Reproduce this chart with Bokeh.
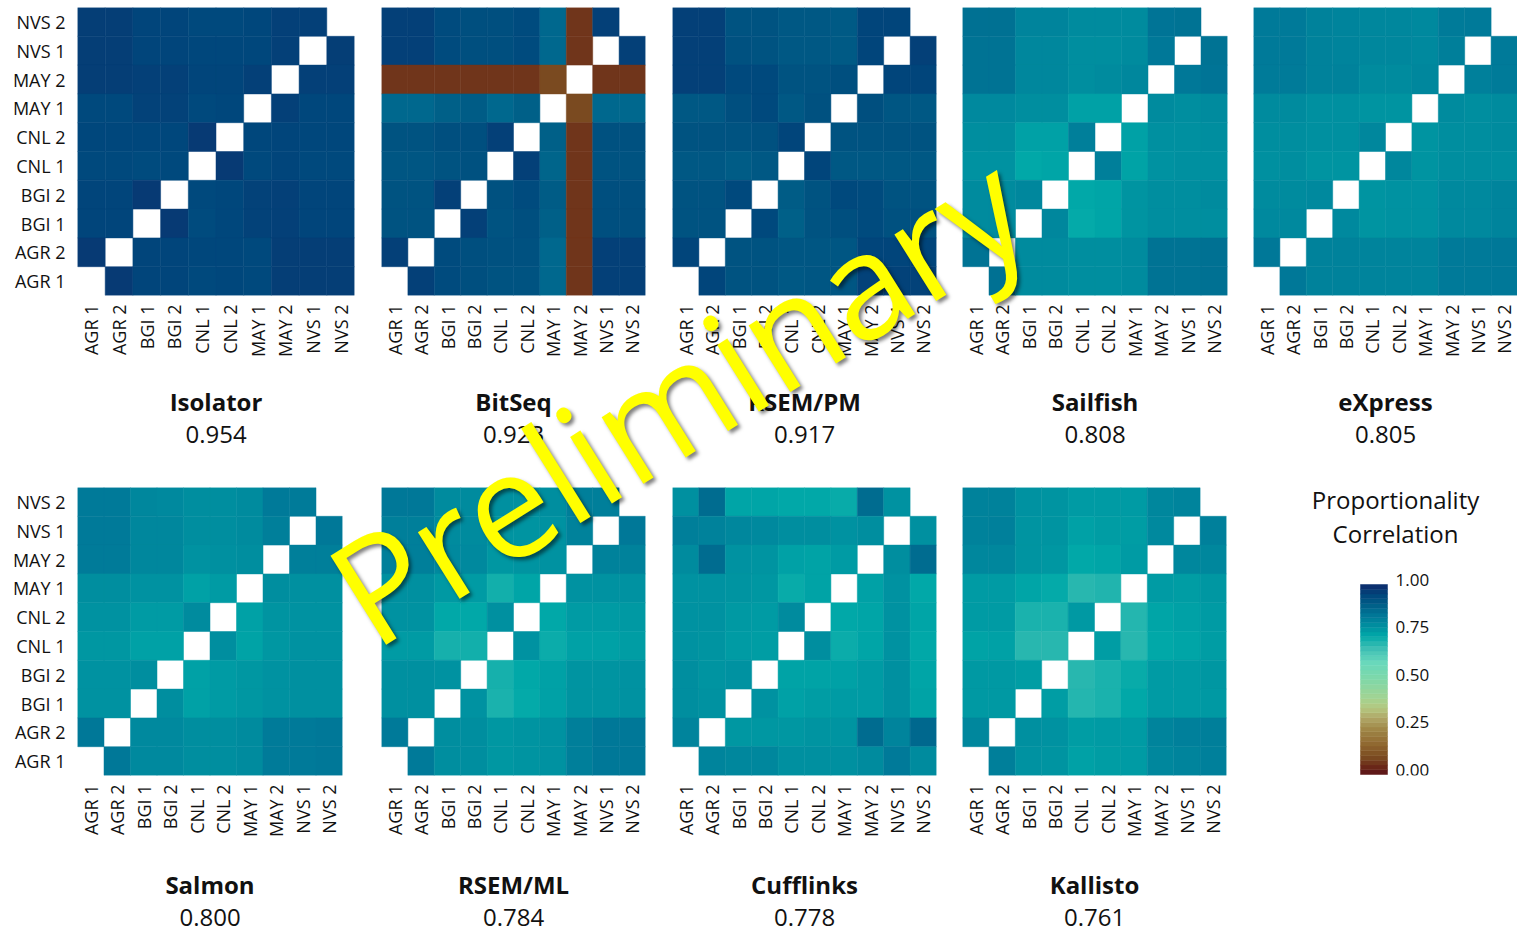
import math
from bokeh.plotting import figure
from bokeh.models import (FactorRange, Range1d, Label, Title, Div, ColumnDataSource)
from bokeh.layouts import row, column
from bokeh.transform import linear_cmap
from bokeh.embed import file_html
from bokeh.resources import INLINE

# ---------------- data ----------------
samples = ["AGR 1", "AGR 2", "BGI 1", "BGI 2", "CNL 1", "CNL 2",
           "MAY 1", "MAY 2", "NVS 1", "NVS 2"]

methods_top = ["Isolator", "BitSeq", "RSEM/PM", "Sailfish", "eXpress"]
scores_top = ["0.954", "0.923", "0.917", "0.808", "0.805"]
methods_bottom = ["Salmon", "RSEM/ML", "Cufflinks", "Kallisto"]
scores_bottom = ["0.800", "0.784", "0.778", "0.761"]

# rows listed top (NVS 2) to bottom (AGR 1); columns AGR 1 .. NVS 2
isolator = [
    [.960, .960, .945, .945, .935, .935, .940, .955, .955, None],
    [.960, .960, .945, .945, .940, .940, .940, .955, None, .960],
    [.960, .960, .955, .955, .945, .945, .955, None, .955, .955],
    [.935, .935, .950, .950, .935, .940, None, .955, .940, .940],
    [.940, .940, .940, .940, .965, None, .940, .945, .940, .940],
    [.935, .935, .930, .935, None, .965, .935, .945, .935, .935],
    [.945, .945, .965, None, .935, .940, .950, .955, .945, .945],
    [.945, .945, None, .965, .930, .940, .950, .955, .945, .945],
    [.965, None, .945, .945, .940, .940, .935, .960, .960, .960],
    [None, .965, .945, .945, .935, .940, .935, .960, .960, .960],
]
bitseq = [
    [.955, .955, .930, .925, .925, .930, .870, .060, .955, None],
    [.955, .955, .930, .925, .925, .930, .870, .060, None, .955],
    [.060, .060, .060, .060, .060, .060, .090, None, .060, .060],
    [.870, .870, .890, .895, .870, .890, None, .090, .870, .870],
    [.915, .915, .925, .925, .955, None, .890, .060, .920, .920],
    [.910, .910, .915, .920, None, .955, .875, .060, .915, .915],
    [.915, .915, .955, None, .920, .930, .895, .060, .925, .925],
    [.915, .915, None, .955, .915, .925, .890, .060, .925, .925],
    [.955, None, .930, .925, .920, .920, .870, .060, .955, .955],
    [None, .955, .930, .925, .915, .915, .870, .060, .955, .955],
]
rsem_pm = [
    [.955, .955, .915, .915, .905, .905, .900, .945, .945, None],
    [.955, .955, .920, .915, .905, .905, .900, .945, None, .955],
    [.955, .955, .935, .935, .915, .915, .925, None, .945, .945],
    [.905, .905, .925, .935, .905, .920, None, .925, .910, .905],
    [.915, .915, .915, .920, .945, None, .915, .915, .915, .915],
    [.905, .905, .895, .905, None, .945, .905, .905, .905, .905],
    [.915, .915, .935, None, .895, .915, .935, .930, .915, .915],
    [.915, .915, None, .935, .890, .915, .925, .930, .920, .920],
    [.945, None, .915, .915, .910, .910, .910, .945, .945, .945],
    [None, .945, .915, .915, .905, .910, .910, .950, .950, .950],
]
sailfish = [
    [.850, .850, .805, .805, .790, .790, .790, .840, .845, None],
    [.845, .845, .800, .800, .785, .785, .790, .835, None, .845],
    [.845, .845, .800, .800, .785, .790, .800, None, .835, .840],
    [.795, .795, .785, .785, .745, .745, None, .790, .785, .790],
    [.785, .785, .745, .745, .820, None, .745, .780, .780, .785],
    [.775, .775, .730, .735, None, .820, .740, .775, .780, .780],
    [.790, .790, .800, None, .730, .735, .770, .785, .785, .790],
    [.790, .790, None, .800, .725, .735, .770, .785, .785, .785],
    [.845, None, .790, .790, .785, .785, .790, .845, .845, .850],
    [None, .850, .790, .790, .785, .785, .790, .845, .845, .850],
]
express = [
    [.830, .830, .810, .805, .800, .800, .795, .825, .830, None],
    [.830, .830, .810, .805, .800, .800, .795, .820, None, .830],
    [.825, .825, .810, .810, .790, .790, .800, None, .815, .825],
    [.790, .790, .780, .780, .770, .770, None, .790, .785, .790],
    [.785, .785, .780, .780, .800, None, .770, .785, .785, .790],
    [.780, .785, .770, .770, None, .800, .770, .785, .785, .785],
    [.790, .790, .795, None, .770, .775, .775, .795, .795, .805],
    [.795, .795, None, .795, .770, .775, .775, .795, .795, .805],
    [.835, None, .810, .810, .805, .805, .805, .830, .830, .835],
    [None, .835, .810, .810, .805, .805, .805, .830, .830, .835],
]
salmon = [
    [.830, .830, .800, .795, .785, .785, .790, .830, .825, None],
    [.830, .830, .800, .800, .785, .785, .790, .820, None, .835],
    [.825, .825, .800, .800, .775, .780, .785, None, .820, .820],
    [.785, .785, .775, .775, .745, .755, None, .785, .780, .780],
    [.775, .775, .755, .755, .790, None, .745, .770, .775, .775],
    [.765, .765, .745, .745, None, .785, .740, .765, .775, .775],
    [.775, .775, .785, None, .745, .755, .765, .775, .780, .780],
    [.775, .775, None, .785, .745, .755, .765, .775, .780, .780],
    [.835, None, .795, .795, .785, .785, .790, .825, .830, .835],
    [None, .835, .795, .795, .785, .785, .790, .825, .830, .835],
]
rsem_ml = [
    [.835, .835, .790, .790, .780, .780, .785, .820, .820, None],
    [.820, .820, .790, .790, .770, .770, .775, .810, None, .835],
    [.820, .820, .795, .795, .765, .770, .775, None, .810, .810],
    [.780, .780, .760, .755, .710, .735, None, .775, .775, .775],
    [.775, .775, .730, .730, .780, None, .730, .755, .755, .760],
    [.755, .755, .705, .710, None, .775, .715, .745, .745, .750],
    [.780, .780, .775, None, .705, .730, .745, .770, .770, .775],
    [.780, .780, None, .775, .700, .725, .745, .770, .770, .775],
    [.830, None, .785, .785, .765, .770, .775, .820, .835, .835],
    [None, .830, .785, .785, .765, .770, .775, .820, .835, .835],
]
cufflinks = [
    [.780, .860, .735, .735, .730, .730, .720, .860, .775, None],
    [.820, .810, .800, .795, .785, .785, .775, .785, None, .780],
    [.790, .860, .775, .770, .745, .740, .755, None, .785, .860],
    [.775, .775, .770, .765, .720, .740, None, .745, .775, .730],
    [.775, .775, .760, .755, .790, None, .730, .735, .775, .735],
    [.775, .770, .755, .750, None, .785, .715, .735, .775, .730],
    [.785, .770, .775, None, .740, .740, .745, .755, .780, .735],
    [.785, .775, None, .775, .745, .750, .755, .755, .780, .740],
    [.805, None, .765, .765, .765, .770, .770, .860, .805, .870],
    [None, .805, .800, .800, .780, .780, .780, .790, .830, .790],
]
kallisto = [
    [.810, .810, .775, .770, .755, .755, .755, .800, .805, None],
    [.810, .815, .770, .770, .745, .750, .750, .795, None, .815],
    [.800, .800, .770, .765, .730, .735, .755, None, .800, .800],
    [.755, .755, .735, .725, .685, .695, None, .755, .750, .765],
    [.755, .755, .700, .700, .760, None, .690, .735, .745, .755],
    [.740, .745, .685, .685, None, .750, .685, .730, .735, .750],
    [.760, .760, .750, None, .685, .700, .720, .755, .755, .765],
    [.760, .760, None, .750, .690, .700, .730, .755, .755, .760],
    [.800, None, .780, .775, .750, .755, .755, .805, .815, .820],
    [None, .820, .775, .770, .745, .750, .755, .800, .805, .815],
]

cbar_ticks = [0.0, 0.25, 0.5, 0.75, 1.0]
legend_title = ["Proportionality", "Correlation"]
watermark_text = "Preliminary"

# ---------------- style ----------------
FONT = "Open Sans"
TXT = "#111111"
cmap_stops = [(0.00, "#5a1018"), (0.04, "#6a2818"), (0.09, "#7a4a20"),
              (0.16, "#906830"), (0.24, "#a08848"), (0.30, "#b0a868"),
              (0.35, "#b4c880"), (0.41, "#a0d494"), (0.50, "#80d8a8"),
              (0.59, "#68d8bc"), (0.66, "#40c0b4"), (0.73, "#00a8a8"),
              (0.78, "#0090a0"), (0.835, "#007898"), (0.89, "#006088"),
              (0.94, "#00487c"), (1.00, "#0e2a6c")]


def _rgb(h):
    return tuple(int(h[i:i + 2], 16) for i in (1, 3, 5))


def cmap_color(t):
    t = min(max(t, 0.0), 1.0)
    for (a, ca), (b, cb_) in zip(cmap_stops[:-1], cmap_stops[1:]):
        if t <= b:
            f = (t - a) / (b - a)
            ra, rb = _rgb(ca), _rgb(cb_)
            return "#%02x%02x%02x" % tuple(int(round(x + (y - x) * f)) for x, y in zip(ra, rb))
    return cmap_stops[-1][1]


palette = [cmap_color(i / 255) for i in range(256)]


def new_fig(width, height, bl, br, bt, bb, x_range, y_range, **kw):
    p = figure(width=width, height=height, x_range=x_range, y_range=y_range,
               toolbar_location=None, output_backend="svg",
               min_border_left=bl, min_border_right=br,
               min_border_top=bt, min_border_bottom=bb,
               outline_line_color=None, background_fill_color="white",
               border_fill_color="white", **kw)
    p.grid.visible = False
    return p


def style_axis(ax, standoff, angle=None):
    ax.axis_line_color = None
    ax.major_tick_line_color = None
    ax.minor_tick_line_color = None
    ax.major_tick_out = 0
    ax.major_tick_in = 0
    ax.major_label_standoff = standoff
    ax.major_label_text_font = FONT
    ax.major_label_text_font_size = "18px"
    ax.major_label_text_color = TXT
    if angle is not None:
        ax.major_label_orientation = angle


def heat(mat, name, score, width, height, bl, br, bt, bb, show_y, name_gap, score_gap):
    n = len(samples)
    p = new_fig(width, height, bl, br, bt, bb,
                FactorRange(factors=samples), FactorRange(factors=samples),
                y_axis_location="left" if show_y else None)
    xs, ys, vs = [], [], []
    for r, rowvals in enumerate(mat):
        for c, v in enumerate(rowvals):
            if v is None:
                continue
            xs.append(samples[c])
            ys.append(samples[n - 1 - r])
            vs.append(v)
    src = ColumnDataSource(dict(x=xs, y=ys, v=vs))
    p.rect("x", "y", 1, 1, source=src,
           fill_color=linear_cmap("v", palette, 0, 1),
           line_color=linear_cmap("v", palette, 0, 1), line_width=0.5)
    ax = p.xaxis[0]
    style_axis(ax, 9, angle=math.pi / 2)
    ax.axis_label = name
    ax.axis_label_text_font = FONT
    ax.axis_label_text_font_size = "24px"
    ax.axis_label_text_font_style = "bold"
    ax.axis_label_text_color = TXT
    ax.axis_label_standoff = name_gap
    if show_y:
        style_axis(p.yaxis[0], 12)
    p.add_layout(Title(text=score, align="center", text_font=FONT,
                       text_font_size="24px", text_font_style="normal",
                       text_color=TXT, standoff=score_gap, offset=0), "below")
    return p


# ---------------- layout (page pixels) ----------------
TOP_H, BOT_H = 470, 466
TOP_BT, TOP_BB = 7, 175
BOT_BT, BOT_BB = 17, 161

top_specs = [  # (width, border_left, border_right, show_y)
    (367, 77, 13, True),
    (291, 14, 13, False),
    (291, 14, 13, False),
    (291, 13, 13, False),
    (277, 13, 0, False),
]
bot_specs = [
    (367, 77, 25, True),
    (291, 14, 13, False),
    (291, 14, 13, False),
    (291, 13, 14, False),
]
top_mats = [isolator, bitseq, rsem_pm, sailfish, express]
bot_mats = [salmon, rsem_ml, cufflinks, kallisto]

top_figs = [heat(m, nm, sc, w, TOP_H, bl, br, TOP_BT, TOP_BB, sy, 25, 4)
            for m, nm, sc, (w, bl, br, sy) in zip(top_mats, methods_top, scores_top, top_specs)]
bot_figs = [heat(m, nm, sc, w, BOT_H, bl, br, BOT_BT, BOT_BB, sy, 28, 4)
            for m, nm, sc, (w, bl, br, sy) in zip(bot_mats, methods_bottom, scores_bottom, bot_specs)]

# colour-bar panel: frame spans page x 1253..1517, y 487..775
CB_W, CB_BL, CB_BR = 277, 13, 0
frame_w = CB_W - CB_BL - CB_BR
bar_bottom_px, bar_len_px = 774, 190          # page y of value 0, pixel length of 0..1
frame_top_px, frame_bot_px = 487, 775
cb = new_fig(CB_W, BOT_H, CB_BL, CB_BR, BOT_BT, BOT_BB,
             Range1d(0, frame_w),
             Range1d((bar_bottom_px - frame_bot_px) / bar_len_px,
                     (bar_bottom_px - frame_top_px) / bar_len_px),
             x_axis_location=None, y_axis_location=None)
nb = 40
bands = ColumnDataSource(dict(
    b=[i / nb for i in range(nb)],
    t=[(i + 1) / nb for i in range(nb)],
    c=[cmap_color((i + 0.5) / nb) for i in range(nb)],
))
bar_x0 = 1360 - 1253
cb.quad(left=bar_x0, right=bar_x0 + 27, bottom="b", top="t", fill_color="c",
        line_color="c", line_width=0.5, source=bands)
for t in cbar_ticks:
    cb.add_layout(Label(x=bar_x0 + 35, y=t, y_offset=5, text=f"{t:.2f}",
                        text_font=FONT, text_font_size="17px", text_color=TXT,
                        text_align="left", text_baseline="middle"))
for txt, base_y in zip(legend_title, (499, 533)):
    cb.add_layout(Label(x=1395 - 1253, y=(bar_bottom_px - base_y) / bar_len_px,
                        text=txt, text_font=FONT, text_font_size="24px",
                        text_color=TXT, text_align="center",
                        text_baseline="alphabetic"))

# watermark overlay (rotated text with soft shadow)
wm_html = (
    '<div style="position:absolute;left:300px;top:537px;transform-origin:0 0;'
    'transform:rotate(-32deg);font-family:\'Open Sans\';font-size:147px;'
    'font-weight:500;line-height:1;color:#ffff00;'
    'text-shadow:1px 4px 4px rgba(0,0,0,0.5);'
    'white-space:nowrap;pointer-events:none;">' + watermark_text + '</div>'
)
wm = Div(text=wm_html, width=1, height=1,
         styles={"position": "absolute", "left": "0px", "top": "0px",
                 "z-index": "10", "overflow": "visible", "pointer-events": "none"})

layout = column(row(*top_figs), row(*bot_figs, cb), wm)

open("out.html", "w").write(file_html(layout, INLINE))
